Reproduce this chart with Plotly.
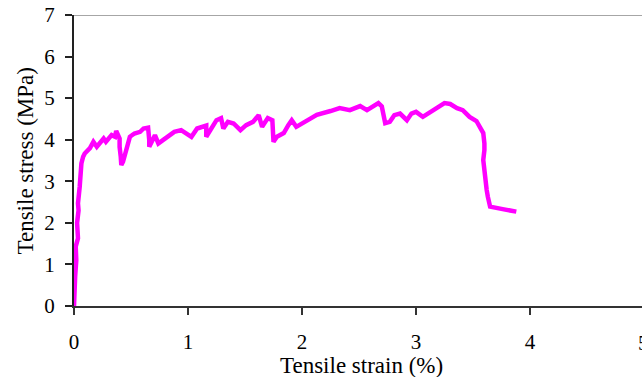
import plotly.graph_objects as go

strain = [0.0, 0.015, 0.01, 0.02, 0.015, 0.035, 0.027, 0.04, 0.035, 0.05, 0.056, 0.065, 0.08, 0.094,
          0.14, 0.17, 0.2, 0.23, 0.26, 0.28, 0.33, 0.36, 0.37, 0.4, 0.4, 0.41, 0.415, 0.43, 0.45,
          0.46, 0.49, 0.53, 0.58, 0.61, 0.65, 0.66, 0.66, 0.71, 0.74, 0.78, 0.84, 0.88, 0.94, 0.99,
          1.03, 1.08, 1.13, 1.16, 1.16, 1.21, 1.25, 1.29, 1.31, 1.35, 1.4, 1.46, 1.51, 1.57, 1.62,
          1.65, 1.70, 1.74, 1.75, 1.78, 1.84, 1.88, 1.91, 1.95, 2.03, 2.13, 2.25, 2.33, 2.42, 2.51,
          2.57, 2.67, 2.70, 2.73, 2.77, 2.81, 2.86, 2.92, 2.96, 3.0, 3.06, 3.15, 3.21, 3.25, 3.3,
          3.36, 3.41, 3.47, 3.53, 3.56, 3.59, 3.6, 3.6, 3.59, 3.6, 3.61, 3.62, 3.63, 3.64, 3.65,
          3.76, 3.82, 3.88]
stress = [0.0, 0.55, 0.7, 1.1, 1.43, 1.63, 2.0, 2.3, 2.47, 2.87, 3.11, 3.43, 3.59, 3.67,
          3.8, 3.95, 3.83, 3.92, 4.03, 3.95, 4.11, 4.07, 4.21, 4.03, 3.83, 3.59, 3.39, 3.47, 3.71,
          3.83, 4.07, 4.15, 4.19, 4.27, 4.29, 3.99, 3.83, 4.11, 3.91, 3.99, 4.11, 4.19, 4.23, 4.15,
          4.07, 4.27, 4.33, 4.34, 4.07, 4.31, 4.47, 4.52, 4.27, 4.43, 4.39, 4.23, 4.35, 4.43, 4.59,
          4.31, 4.52, 4.47, 3.95, 4.07, 4.16, 4.35, 4.47, 4.31, 4.43, 4.6, 4.69, 4.76, 4.71, 4.81,
          4.71, 4.88, 4.8, 4.4, 4.43, 4.59, 4.63, 4.47, 4.63, 4.67, 4.55, 4.71, 4.83, 4.88, 4.86,
          4.76, 4.71, 4.55, 4.45, 4.31, 4.16, 3.91, 3.75, 3.51, 3.2, 2.95, 2.79, 2.63, 2.48, 2.39,
          2.33, 2.3, 2.27]

x_ticks = [0, 1, 2, 3, 4]
y_ticks = [0, 1, 2, 3, 4, 5, 6, 7]
x_title = "Tensile strain (%)"
y_title = "Tensile stress (MPa)"

FONT = "Times New Roman"
X_MAX = 568 / 114.0

fig = go.Figure()
fig.add_trace(go.Scatter(x=strain, y=stress, mode="lines",
                         line=dict(color="#ff00ff", width=4.5), showlegend=False))

fig.update_layout(
    width=642, height=377,
    margin=dict(l=74, r=0, t=15, b=71),
    paper_bgcolor="white", plot_bgcolor="white",
    font=dict(family=FONT, size=21, color="black"),
    xaxis=dict(range=[0, X_MAX], tickvals=x_ticks, ticks="outside", ticklen=7, tickwidth=1.5,
               tickcolor="#333", showline=True, linecolor="#333", linewidth=2,
               showgrid=False, zeroline=False, automargin=False, ticklabelstandoff=9,
               tickfont=dict(family=FONT, size=21, color="black")),
    yaxis=dict(range=[0, 7], tickvals=y_ticks, ticks="outside", ticklen=7, tickwidth=1.5,
               tickcolor="#222", showline=True, linecolor="#222", linewidth=2,
               showgrid=False, zeroline=False, automargin=False, ticklabelstandoff=6,
               tickfont=dict(family=FONT, size=21, color="black")),
    shapes=[dict(type="line", xref="paper", yref="y", x0=0, x1=1, y0=7, y1=7,
                 line=dict(color="#a6a6a6", width=2))],
    annotations=[
        dict(text=x_title, xref="paper", yref="paper", x=(361.5 - 74) / 568, y=0,
             xanchor="center", yanchor="middle", yshift=-59, showarrow=False,
             font=dict(family=FONT, size=23, color="black")),
        dict(text=y_title, xref="paper", yref="paper", x=(25 - 74) / 568, y=(306 - 161.5) / 291,
             xanchor="center", yanchor="middle", textangle=-90, showarrow=False,
             font=dict(family=FONT, size=23, color="black")),
        dict(text="5", xref="paper", yref="paper", x=5 / X_MAX, y=0,
             xanchor="center", yanchor="top", yshift=-23, showarrow=False,
             font=dict(family=FONT, size=21, color="black")),
    ],
)

fig.write_html("out.html", config={"displayModeBar": False},
               post_script="document.body.style.margin='0';document.documentElement.style.overflow='hidden';")
